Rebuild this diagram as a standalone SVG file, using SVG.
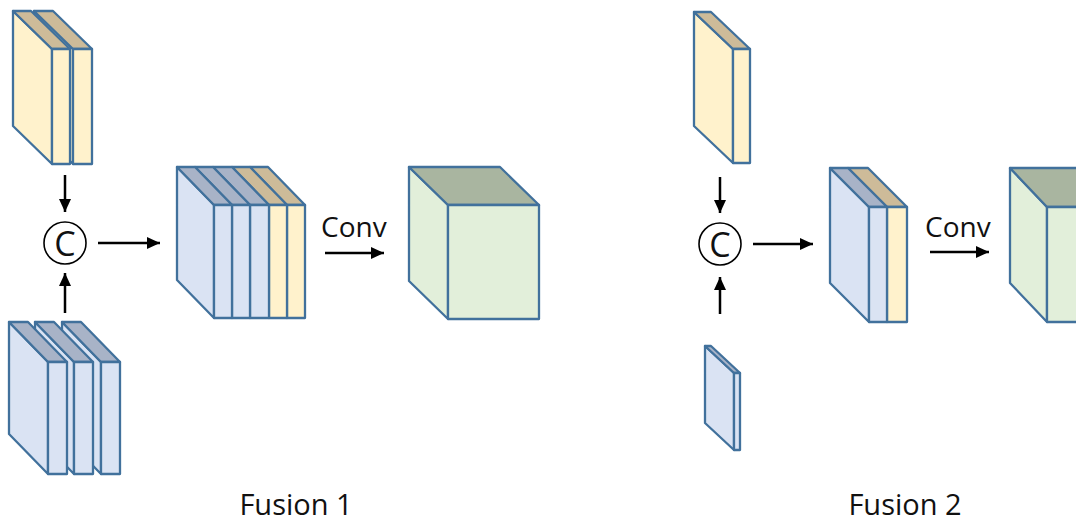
<svg xmlns="http://www.w3.org/2000/svg" width="1076" height="523" viewBox="0 0 1076 523">
<defs>
<style>
.e{stroke:#41719C;stroke-width:2.3;stroke-linejoin:round}
.yf{fill:#FFF2CC}.yt{fill:#CDBB99}
.bf{fill:#DAE3F3}.bt{fill:#A8B3C7}
.gf{fill:#E2EFDA}.gt{fill:#A9B5A0}
.ln{stroke:#000;stroke-width:2.5;fill:none}
.t{font-family:"Open Sans","Liberation Sans",sans-serif;fill:#111}
</style>
<marker id="ah" markerUnits="userSpaceOnUse" markerWidth="14" markerHeight="12" refX="13" refY="6" orient="auto">
<path d="M0,0 L13,6 L0,12 z" fill="#000"/>
</marker>
</defs>
<rect width="1076" height="523" fill="#fff"/>

<!-- Fusion 1 -->
<g id="yellow-input-1">
<polygon class="e yf" points="34,11 73,49 73,164 34,126"/>
<polygon class="e yt" points="34,11 53,11 92,49 73,49"/>
<rect class="e yf" x="73" y="49" width="19" height="115"/>
<polygon class="e yf" points="13,11 52,49 52,164 13,126"/>
<polygon class="e yt" points="13,11 31,11 70,49 52,49"/>
<rect class="e yf" x="52" y="49" width="18" height="115"/>
</g>

<g id="blue-input-1">
<polygon class="e bf" points="62,322 101,362 101,474 62,434"/>
<polygon class="e bt" points="62,322 81,322 120,362 101,362"/>
<rect class="e bf" x="101" y="362" width="19" height="112"/>
<polygon class="e bf" points="35,322 74,362 74,474 35,434"/>
<polygon class="e bt" points="35,322 54,322 93,362 74,362"/>
<rect class="e bf" x="74" y="362" width="19" height="112"/>
<polygon class="e bf" points="9,322 48,362 48,474 9,434"/>
<polygon class="e bt" points="9,322 28,322 67,362 48,362"/>
<rect class="e bf" x="48" y="362" width="19" height="112"/>
</g>

<g id="concat-1">
<circle cx="65" cy="243" r="21" fill="#fff" stroke="#000" stroke-width="1.6"/>
<text class="t" x="65" y="255.5" font-size="34" text-anchor="middle">C</text>
</g>

<g id="stack-1">
<polygon class="e yt" points="250,167 268,167 305,205 287,205"/>
<rect class="e yf" x="287" y="205" width="18" height="113"/>
<polygon class="e yt" points="232,167 250,167 287,205 269,205"/>
<rect class="e yf" x="269" y="205" width="18" height="113"/>
<polygon class="e bt" points="213,167 232,167 269,205 250,205"/>
<rect class="e bf" x="250" y="205" width="19" height="113"/>
<polygon class="e bt" points="195,167 213,167 250,205 232,205"/>
<rect class="e bf" x="232" y="205" width="18" height="113"/>
<polygon class="e bf" points="177,167 214,205 214,318 177,280"/>
<polygon class="e bt" points="177,167 195,167 232,205 214,205"/>
<rect class="e bf" x="214" y="205" width="18" height="113"/>
</g>

<g id="output-1">
<polygon class="e gf" points="409,167 448,205 448,319 409,281"/>
<polygon class="e gt" points="409,167 500,167 539,205 448,205"/>
<rect class="e gf" x="448" y="205" width="91" height="114"/>
</g>

<!-- Fusion 2 -->
<g id="yellow-input-2">
<polygon class="e yf" points="694,12 733,49 733,163 694,126"/>
<polygon class="e yt" points="694,12 711,12 750,49 733,49"/>
<rect class="e yf" x="733" y="49" width="17" height="114"/>
</g>

<g id="blue-input-2">
<polygon class="e bf" points="705,346 734,373 734,450 705,423"/>
<polygon class="e bt" points="705,346 711,346 740,373 734,373"/>
<rect class="e bf" x="734" y="373" width="6" height="77"/>
</g>

<g id="concat-2">
<circle cx="720" cy="244" r="21" fill="#fff" stroke="#000" stroke-width="1.6"/>
<text class="t" x="720" y="256.5" font-size="34" text-anchor="middle">C</text>
</g>

<g id="stack-2">
<polygon class="e yt" points="848,168 868,168 907,207 887,207"/>
<rect class="e yf" x="887" y="207" width="20" height="115"/>
<polygon class="e bf" points="830,168 869,207 869,322 830,283"/>
<polygon class="e bt" points="830,168 848,168 887,207 869,207"/>
<rect class="e bf" x="869" y="207" width="18" height="115"/>
</g>

<g id="output-2">
<polygon class="e gf" points="1010,168 1047,207 1047,322 1010,283"/>
<polygon class="e gt" points="1010,168 1100,168 1137,207 1047,207"/>
<rect class="e gf" x="1047" y="207" width="90" height="115"/>
</g>

<g id="connectors">
<line class="ln" x1="65" y1="175" x2="65" y2="212" marker-end="url(#ah)"/>
<line class="ln" x1="65" y1="313" x2="65" y2="273" marker-end="url(#ah)"/>
<line class="ln" x1="98" y1="243" x2="160" y2="243" marker-end="url(#ah)"/>
<line class="ln" x1="325" y1="253" x2="384" y2="253" marker-end="url(#ah)"/>
<line class="ln" x1="720" y1="177" x2="720" y2="213" marker-end="url(#ah)"/>
<line class="ln" x1="720" y1="314" x2="720" y2="277" marker-end="url(#ah)"/>
<line class="ln" x1="753" y1="244" x2="813" y2="244" marker-end="url(#ah)"/>
<line class="ln" x1="930" y1="252" x2="989" y2="252" marker-end="url(#ah)"/>
</g>

<g id="labels">
<text class="t" x="321" y="237" font-size="28">Conv</text>
<text class="t" x="925" y="237" font-size="28">Conv</text>
<text class="t" x="296" y="515" font-size="29" text-anchor="middle">Fusion 1</text>
<text class="t" x="905" y="515" font-size="29" text-anchor="middle">Fusion 2</text>
</g>
</svg>
